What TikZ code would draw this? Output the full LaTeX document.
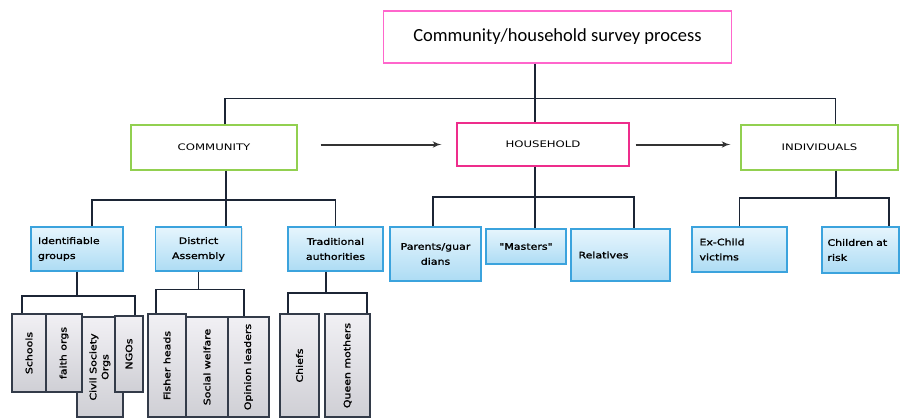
\documentclass[tikz,border=0pt]{standalone}
\usepackage{fontspec}
\usepackage{graphicx}
\usetikzlibrary{
        arrows,
        positioning,
        shadows
    }
\newfontfamily\titlefont{Carlito}
\newfontfamily\boxfont[FakeStretch=1.3]{DejaVu Sans}
\newfontfamily\boldboxfont[FakeStretch=1.22,FakeBold=1.5]{DejaVu Sans}
\definecolor{pinkA}{HTML}{FF66CC}
\definecolor{pinkB}{HTML}{EE2D8C}
\definecolor{greenA}{HTML}{92D050}
\definecolor{blueA}{HTML}{3BA3DD}
\definecolor{blueTop}{HTML}{E6F5FD}
\definecolor{blueBot}{HTML}{ADDCF4}
\definecolor{greyTop}{HTML}{F1F0F4}
\definecolor{greyBot}{HTML}{CFCFD5}
\definecolor{lineC}{HTML}{1C2535}
\tikzset{>=latex'}
\tikzset{
    conn/.style={draw=lineC,line width=1.4pt},
    flow/.style={->,draw=black!80,line width=2pt},
    headbox/.style={draw=#1,line width=1.2pt,fill=white,font=\boxfont\fontsize{9}{15}\selectfont,inner sep=2pt},
    bluebox/.style={draw=blueA,line width=1.3pt,top color=blueTop,bottom color=blueBot,
        drop shadow={opacity=0.2,shadow xshift=1pt,shadow yshift=-1pt},
        font=\boldboxfont\fontsize{9}{15}\selectfont,inner sep=2pt},
    greybox/.style={draw=lineC!90,line width=1.2pt,top color=greyTop,bottom color=greyBot,
        font=\boldboxfont\fontsize{9}{12}\selectfont,inner sep=1pt}
}

\begin{document}
\begin{tikzpicture}[x=1pt,y=-1pt]
    \useasboundingbox (0,0) rectangle (903,418);
    \node[draw=pinkA,line width=1.2pt,minimum width=348,minimum height=52,
        font=\titlefont\fontsize{18.5}{22}\selectfont] (survey) at (557.5,37) {Community/household survey process};
    \node[headbox=greenA,minimum width=166,minimum height=45] (comm) at (214,147.5) {COMMUNITY};
    \node[headbox=pinkB,minimum width=172,minimum height=43] (hh) at (543,144.5) {HOUSEHOLD};
    \node[headbox=greenA,minimum width=157,minimum height=45] (ind) at (819.5,147.5) {INDIVIDUALS};

    \node[bluebox,minimum width=92,minimum height=44,text width=78,align=left] (idg) at (77,249) {Identifiable\\groups};
    \node[bluebox,minimum width=86,minimum height=44,align=center] (da) at (198.5,249) {District\\Assembly};
    \node[bluebox,minimum width=95,minimum height=44,align=center] (ta) at (335.5,249) {Traditional\\authorities};
    \node[bluebox,minimum width=91,minimum height=54,align=center] (pg) at (435.5,254) {Parents/guar\\dians};
    \node[bluebox,minimum width=80,minimum height=35] (ma) at (526,246.5) {"Masters"};
    \node[bluebox,minimum width=99,minimum height=52,text width=84,align=left] (re) at (620.5,255) {Relatives};
    \node[bluebox,minimum width=95,minimum height=45,text width=80,align=left] (ex) at (739.5,249.5) {Ex-Child\\victims};
    \node[bluebox,minimum width=77,minimum height=46,text width=66,align=left] (car) at (860.5,250) {Children at\\risk};

    \node[greybox,minimum width=46,minimum height=100] (cso) at (100,367)
        {\rotatebox{90}{\begin{tabular}{@{}c@{}}Civil Society\\Orgs\end{tabular}}};
    \node[greybox,minimum width=34,minimum height=78] (sch) at (29,353) {\rotatebox{90}{Schools}};
    \node[greybox,minimum width=36,minimum height=78] (fo) at (64,353) {\rotatebox{90}{faith orgs}};
    \node[greybox,minimum width=28,minimum height=76] (ngo) at (129,354) {\rotatebox{90}{NGOs}};
    \node[greybox,minimum width=38,minimum height=103] (fh) at (167,365.5) {\rotatebox{90}{Fisher heads}};
    \node[greybox,minimum width=42,minimum height=100] (sw) at (207,367) {\rotatebox{90}{Social welfare}};
    \node[greybox,minimum width=41,minimum height=100] (ol) at (248.5,367) {\rotatebox{90}{Opinion leaders}};
    \node[greybox,minimum width=39,minimum height=103] (ch) at (299.5,365.5) {\rotatebox{90}{Chiefs}};
    \node[greybox,minimum width=45,minimum height=103] (qm) at (347.5,365.5) {\rotatebox{90}{Queen mothers}};

    \coordinate (b0) at (535,98.5);
    \coordinate (b1) at (226,200);
    \coordinate (b2) at (77,296);
    \coordinate (b3) at (198.5,289.5);
    \coordinate (b4) at (326,293);
    \coordinate (b5) at (535,197);
    \coordinate (b6) at (836,198);

    \draw[conn] (survey.south -| b0) -- (hh.north -| b0);
    \draw[conn] ([xshift=11]comm.north) |- (b0) -| ([xshift=16]ind.north);
    \draw[conn] (comm.south -| b1) -- (da.north -| b1);
    \draw[conn] ([xshift=15]idg.north) |- (b1) -| (ta.north);
    \draw[conn] (idg.south) -- (b2);
    \draw[conn] ([xshift=-7]sch.north) |- (b2) -| ([xshift=6]ngo.north);
    \draw[conn] (da.south) -- (b3);
    \draw[conn] ([xshift=-11]fh.north) |- (b3) -| ([xshift=-4.5]ol.north);
    \draw[conn] (ta.south -| b4) -- (b4);
    \draw[conn] ([xshift=-11.5]ch.north) |- (b4) -| ([xshift=19.5]qm.north);
    \draw[conn] (hh.south -| b5) -- (ma.north -| b5);
    \draw[conn] ([xshift=-2.5]pg.north) |- (b5) -| ([xshift=13.5]re.north);
    \draw[conn] (ind.south -| b6) -- (b6);
    \draw[conn] (ex.north) |- (b6) -| ([xshift=28.5]car.north);

    \draw[flow,shorten <=23pt,shorten >=15pt] (comm.east |- hh.west) -- (hh.west);
    \draw[flow,shorten <=6pt,shorten >=10pt] (hh.east) -- (ind.west |- hh.east);
\end{tikzpicture}
\end{document}
